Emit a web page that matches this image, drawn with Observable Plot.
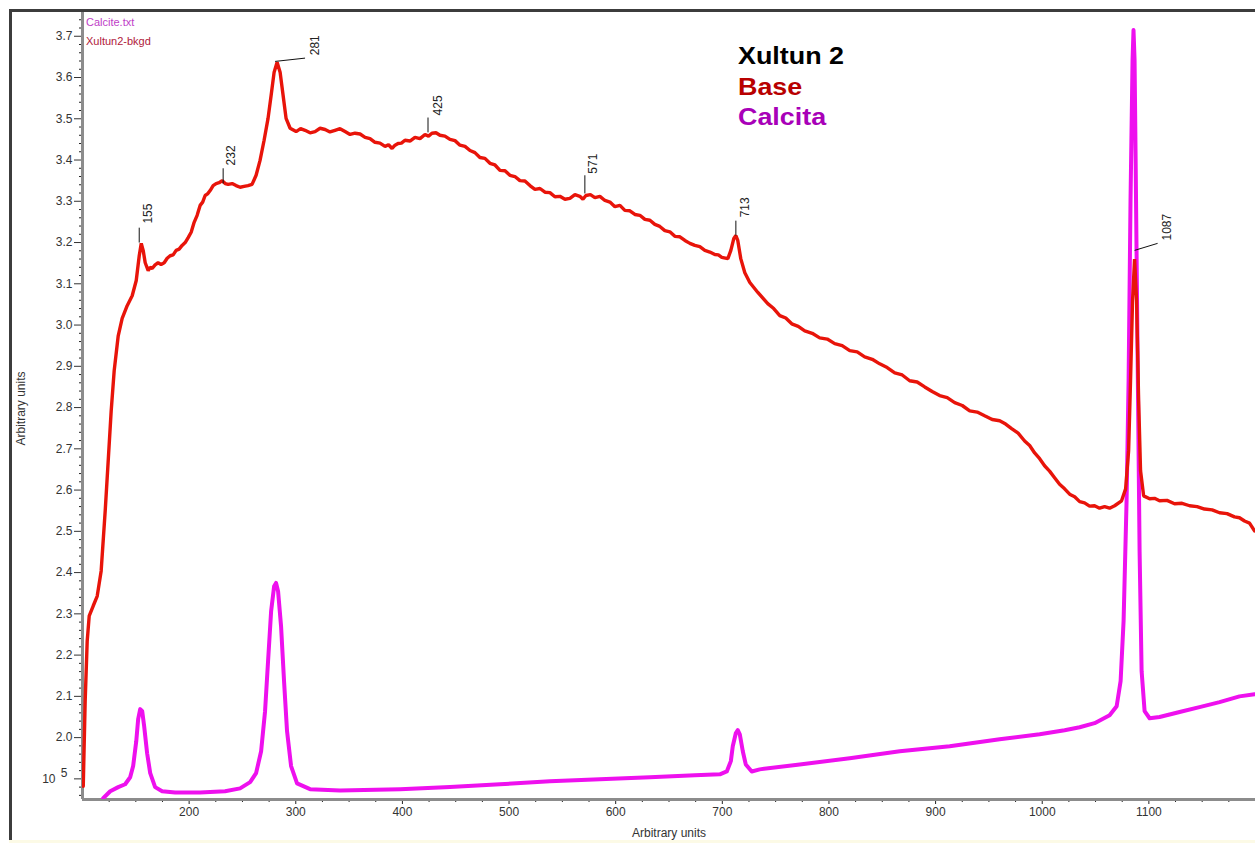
<!DOCTYPE html>
<html><head><meta charset="utf-8">
<script src="https://cdn.jsdelivr.net/npm/d3@7"></script>
<script src="https://cdn.jsdelivr.net/npm/@observablehq/plot@0.6"></script>
<style>
body{margin:0;background:#fff;font-family:Arial,"Liberation Sans",sans-serif;}
#wrap{position:relative;width:1255px;height:843px;overflow:hidden;background:#fff;}
#chart{position:absolute;left:0;top:0;}
.frameL{position:absolute;left:9px;top:9px;width:3px;height:834px;background:#3c3c3c;}
.frameT{position:absolute;left:9px;top:9px;width:1246px;height:3px;background:#3c3c3c;}
.frameB{position:absolute;left:9px;top:840px;width:1246px;height:3px;background:#fcfae6;}
.t{position:absolute;left:738px;font-weight:bold;font-size:24px;line-height:1;transform:scaleX(1.12);transform-origin:left;white-space:nowrap;}
.lg{position:absolute;left:86px;font-size:11px;line-height:1;white-space:nowrap;}
</style>
</head>
<body>
<div id="wrap">
  <div id="chart"></div>
  <div class="frameL"></div><div class="frameT"></div><div class="frameB"></div>
  <div class="lg" style="top:17px;color:#c040c8;">Calcite.txt</div>
  <div class="lg" style="top:36px;color:#b0203a;">Xultun2-bkgd</div>
  <div class="t" style="top:44px;color:#000;">Xultun 2</div>
  <div class="t" style="top:75px;color:#b80000;">Base</div>
  <div class="t" style="top:105px;color:#a800b8;">Calcita</div>
</div>
<script>
// ---- Base (Xultun2-bkgd) spectrum: [shift, intensity x1e5] ----
const baseSpectrum = [
[100.7,1.882],[102.5,2.088],[104.4,2.234],[106.3,2.295],[110.0,2.319],[113.8,2.343],[117.5,2.404],[121.3,2.550],
[124.1,2.671],[126.9,2.792],[129.7,2.889],[133.5,2.974],[137.2,3.016],[141.9,3.047],[146.6,3.071],[150.4,3.108],
[153.2,3.168],[155.1,3.198],[156.9,3.181],[158.8,3.151],
[161.6,3.132],[163.4,3.140],[165.3,3.137],[168.1,3.146],[170.9,3.151],[173.7,3.147],[176.6,3.151],[179.4,3.162],
[182.2,3.168],[185.0,3.170],[187.8,3.181],[190.6,3.184],[193.4,3.193],[196.3,3.200],[199.1,3.212],[201.9,3.225],
[204.7,3.249],[207.5,3.266],[210.3,3.290],[212.7,3.298],[215.0,3.314],[217.3,3.318],[219.7,3.326],[222.5,3.338],
[225.3,3.343],[228.1,3.345],[231.0,3.350],[233.8,3.343],[236.6,3.341],[240.3,3.343],[244.0,3.338],[247.8,3.334],
[251.5,3.336],[255.2,3.338],[259.0,3.341],
[262.8,3.363],[266.5,3.399],[270.3,3.448],[274.0,3.501],[276.9,3.557],[279.7,3.613],[282.5,3.637],[285.3,3.613],
[288.1,3.557],[290.9,3.501],[294.7,3.477],
[300.3,3.469],[304.5,3.476],[308.7,3.472],[313.4,3.466],[318.1,3.469],[322.8,3.477],[327.5,3.474],[332.1,3.468],
[336.8,3.472],[341.5,3.476],[346.2,3.469],[350.9,3.462],[355.6,3.465],[360.3,3.463],[365.0,3.455],[369.6,3.452],
[374.3,3.443],[379.0,3.441],[383.7,3.433],[387.0,3.437],[390.3,3.428],[393.1,3.436],[395.9,3.440],[399.1,3.441],
[402.4,3.448],[407.1,3.446],[411.8,3.455],[416.5,3.452],[421.2,3.462],[424.5,3.458],[427.7,3.465],[431.5,3.466],
[435.2,3.460],[439.9,3.458],[444.6,3.450],[449.3,3.447],[454.0,3.436],[458.7,3.433],[463.4,3.423],[468.0,3.418],
[472.7,3.406],[477.4,3.404],[482.1,3.392],[486.8,3.388],[491.5,3.375],[496.2,3.374],[500.8,3.363],[505.5,3.360],
[510.2,3.350],[514.9,3.349],[519.6,3.338],[524.3,3.329],[529.0,3.331],[533.7,3.322],[538.3,3.321],[543.0,3.311],
[547.7,3.312],[552.4,3.305],[557.1,3.307],[561.8,3.316],[566.4,3.312],[569.3,3.305],[572.1,3.314],[576.3,3.316],
[580.5,3.309],[585.2,3.312],[589.9,3.302],[594.6,3.298],[599.3,3.287],[604.0,3.290],[608.6,3.278],[613.3,3.277],
[618.0,3.268],[622.7,3.266],[627.4,3.256],[632.1,3.254],[636.7,3.244],[641.4,3.239],[646.1,3.229],[650.8,3.226],
[655.5,3.215],[660.2,3.214],[664.9,3.205],[669.6,3.198],[674.2,3.193],[678.9,3.190],[683.6,3.181],[688.3,3.177],
[693.0,3.171],[696.3,3.170],[699.5,3.164],
[705.2,3.161],[708.0,3.181],[710.8,3.210],[712.7,3.217],[714.5,3.205],[717.3,3.161],[721.1,3.127],[725.8,3.103],
[733.3,3.079],
[742.6,3.052],[748.2,3.040],[753.9,3.023],[759.5,3.017],[765.1,3.003],[771.2,2.997],[777.3,2.986],[784.3,2.980],
[791.3,2.969],[798.4,2.966],[805.4,2.955],[812.4,2.950],[819.5,2.938],[826.5,2.935],[833.5,2.923],[840.6,2.917],
[847.6,2.906],[854.6,2.897],[861.7,2.884],[868.7,2.879],[875.7,2.865],[882.7,2.862],[889.8,2.850],[896.8,2.839],
[903.8,2.829],[910.9,2.824],[917.9,2.812],[925.0,2.805],[932.0,2.792],[939.0,2.789],[946.0,2.780],[953.1,2.771],
[960.1,2.768],[965.7,2.760],[971.3,2.749],[977.4,2.738],[983.5,2.719],[988.2,2.708],[992.9,2.690],[997.6,2.676],
[1002.2,2.659],[1006.9,2.646],[1011.6,2.630],[1016.3,2.614],[1021.0,2.603],[1025.7,2.590],[1030.4,2.584],[1035.1,2.572],
[1039.7,2.569],[1044.4,2.561],[1049.1,2.562],[1053.8,2.556],[1058.5,2.560],[1063.2,2.556],[1067.9,2.562],
[1074.4,2.574],[1078.2,2.603],[1081.0,2.695],[1082.8,2.865],[1084.7,3.059],[1086.6,3.160],[1088.5,3.059],[1090.4,2.817],
[1092.2,2.647],[1095.1,2.586],
[1100.7,2.579],[1105.3,2.580],[1110.0,2.574],[1117.0,2.575],[1124.1,2.567],[1131.1,2.568],[1138.2,2.562],[1145.2,2.560],
[1152.2,2.554],[1159.3,2.552],[1166.3,2.545],[1173.3,2.543],[1180.3,2.535],[1185.0,2.533],[1189.7,2.525],[1194.4,2.520],
[1199.1,2.501]
];

// ---- Calcite reference spectrum ----
const calciteX = [119.4,126.0,133.5,140.0,144.7,147.5,150.4,152.2,154.1,156.0,157.8,160.6,163.5,168.1,174.7,186.9,210.3,233.7,247.8,257.2,262.8,267.5,271.2,274.0,276.9,279.7,281.5,283.4,286.2,289.0,291.8,295.6,301.2,313.4,341.5,397.8,444.6,491.5,538.3,585.2,632.1,674.2,697.7,704.2,708.0,709.8,712.7,714.5,716.4,719.2,722.0,727.6,735.1,772.6,819.5,866.4,913.2,960.1,997.6,1021.0,1035.1,1049.1,1063.2,1069.8,1073.5,1076.3,1079.1,1081.0,1082.8,1084.7,1085.6,1086.6,1087.5,1089.4,1091.3,1093.2,1096.0,1100.7,1110.0,1128.8,1147.5,1166.3,1185.0,1199.1];
const calciteY = [1.853,1.870,1.880,1.887,1.904,1.931,1.991,2.045,2.069,2.064,2.028,1.962,1.914,1.880,1.870,1.867,1.867,1.870,1.877,1.892,1.914,1.967,2.064,2.185,2.307,2.367,2.375,2.355,2.270,2.137,2.016,1.931,1.889,1.875,1.872,1.875,1.880,1.887,1.894,1.899,1.904,1.909,1.911,1.918,1.943,1.979,2.011,2.018,2.008,1.967,1.935,1.918,1.923,1.935,1.950,1.967,1.979,1.996,2.008,2.018,2.025,2.035,2.054,2.076,2.137,2.283,2.574,2.865,3.302,3.642,3.715,3.642,3.423,2.938,2.452,2.161,2.064,2.047,2.050,2.062,2.074,2.086,2.100,2.105];

// ---- Peak annotations ----
const peakLabels = ["155","232","281","425","571","713","1087"];
const leadX1 = [153.2,231.9,280.6,424.0,571.1,712.7,1086.6];
const leadY1 = [3.200,3.343,3.639,3.467,3.319,3.217,3.181];
const leadX2 = [153.2,231.9,308.7,424.0,571.1,712.7,1108.2];
const leadY2 = [3.236,3.380,3.647,3.503,3.363,3.253,3.198];
const labelX = [161.6,239.4,318.1,433.4,578.6,721.1,1117.5];
const labelY = [3.246,3.387,3.654,3.508,3.367,3.261,3.205];

// ---- Axis ticks ----
const xMajor = [200,300,400,500,600,700,800,900,1000,1100];
const yMajor = [1.9,2.0,2.1,2.2,2.3,2.4,2.5,2.6,2.7,2.8,2.9,3.0,3.1,3.2,3.3,3.4,3.5,3.6,3.7];
const xMinor = d3.range(125, 1200, 25).filter(v => v % 100 !== 0);
const yMinor = d3.range(186, 376, 2).map(v => v / 100).filter(v => Math.round(v * 100) % 10 !== 0);
const expTick = [1.9];

const base = baseSpectrum.map(([x, y]) => ({x, y}));
const calcite = calciteX.map((x, i) => ({x, y: calciteY[i]}));
const peaks = peakLabels.map((label, i) => ({label, x1: leadX1[i], y1: leadY1[i], x2: leadX2[i], y2: leadY2[i], tx: labelX[i], ty: labelY[i]}));

const chart = Plot.plot({
  width: 1255, height: 843,
  marginLeft: 82, marginTop: 11, marginBottom: 44, marginRight: 0,
  x: {domain: [100, 1200]},
  y: {domain: [1.85, 3.76]},
  style: {fontFamily: "Arial, 'Liberation Sans', sans-serif", fontSize: "12px", color: "#333", background: "transparent"},
  marks: [
    Plot.axisY(yMinor, {tickSize: 3, tickFormat: () => "", stroke: "#222", label: null}),
    Plot.axisY(yMajor, {tickSize: 8, tickPadding: 2, tickFormat: d => Math.abs(d - 1.9) < 1e-9 ? "" : d.toFixed(1), stroke: "#333", fill: "#333", label: null}),
    Plot.axisX(xMinor, {tickSize: 3, tickFormat: () => "", stroke: "#222", label: null}),
    Plot.axisX(xMajor, {tickSize: 5, tickPadding: 3, tickFormat: d => String(d), stroke: "#222", fill: "#333", label: null}),
    Plot.ruleX([100], {stroke: "#8c8c8c", strokeWidth: 3}),
    Plot.ruleY([1.85], {stroke: "#8c8c8c", strokeWidth: 3}),
    Plot.text(expTick, {x: () => 100, y: d => d, text: () => "10", textAnchor: "end", dx: -27, fill: "#333"}),
    Plot.text(expTick, {x: () => 100, y: d => d, text: () => "5", textAnchor: "end", dx: -15, dy: -6, fill: "#333"}),
    Plot.text(["Arbitrary units"], {frameAnchor: "left", textAnchor: "middle", lineAnchor: "middle", rotate: -90, dx: -61, dy: 3, fill: "#333"}),
    Plot.text(["Arbitrary units"], {frameAnchor: "bottom", textAnchor: "middle", lineAnchor: "middle", dy: 34, fill: "#333"}),
    Plot.line(calcite, {x: "x", y: "y", stroke: "#ee10ee", strokeWidth: 4, clip: true}),
    Plot.line(base, {x: "x", y: "y", stroke: "#e8140a", strokeWidth: 3.4, strokeLinejoin: "miter", clip: true}),
    Plot.link(peaks, {x1: "x1", y1: "y1", x2: "x2", y2: "y2", stroke: "#111", strokeWidth: 1}),
    Plot.text(peaks, {x: "tx", y: "ty", text: "label", rotate: -90, textAnchor: "start", fill: "#222", fontSize: 12})
  ]
});
document.getElementById("chart").appendChild(chart);
</script>
</body></html>
